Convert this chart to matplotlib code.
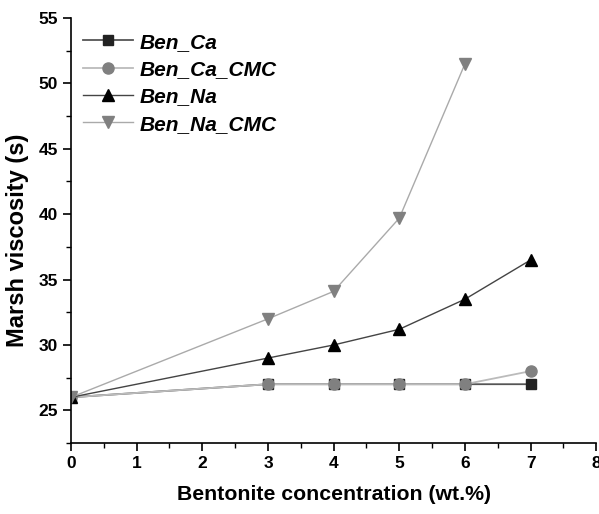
import matplotlib
matplotlib.use("Agg")
import matplotlib.pyplot as plt
from matplotlib.ticker import MultipleLocator

plt.rcParams["font.family"] = ["Liberation Sans", "DejaVu Sans"]
plt.rcParams["font.weight"] = "bold"

# data
conc = [0, 3, 4, 5, 6, 7]
ben_ca = [26, 27, 27, 27, 27, 27]
ben_ca_cmc = [26, 27, 27, 27, 27, 28]
ben_na = [26, 29, 30, 31.2, 33.5, 36.5]
conc_na_cmc = [0, 3, 4, 5, 6]
ben_na_cmc = [26, 32, 34.1, 39.7, 51.5]

fig = plt.figure(figsize=(5.99, 5.14), dpi=100)
ax = fig.add_axes([0.1185, 0.138, 0.877, 0.827])

ax.plot(conc, ben_ca, color="#555555", lw=1.3, marker="s", ms=7,
        mfc="#222222", mec="#222222", label="Ben_Ca")
ax.plot(conc, ben_ca_cmc, color="#bbbbbb", lw=1.3, marker="o", ms=8,
        mfc="#808080", mec="#808080", label="Ben_Ca_CMC")
ax.plot(conc, ben_na, color="#444444", lw=1.0, marker="^", ms=8,
        mfc="black", mec="black", label="Ben_Na")
ax.plot(conc_na_cmc, ben_na_cmc, color="#aaaaaa", lw=1.0, marker="v", ms=8,
        mfc="#808080", mec="#808080", label="Ben_Na_CMC")

ax.set_xlim(0, 8)
ax.set_ylim(22.5, 55)
ax.xaxis.set_major_locator(MultipleLocator(1))
ax.xaxis.set_minor_locator(MultipleLocator(0.5))
ax.yaxis.set_major_locator(MultipleLocator(5))
ax.yaxis.set_minor_locator(MultipleLocator(2.5))
ax.spines[["top", "right"]].set_visible(False)
ax.spines[["left", "bottom"]].set_linewidth(1.2)
ax.tick_params(which="major", direction="out", length=6, width=1.2, labelsize=12.5)
ax.tick_params(which="minor", direction="out", length=3.5, width=1.0)

ax.set_xlabel("Bentonite concentration (wt.%)", fontsize=15.3, fontweight="bold", labelpad=10)
ax.set_ylabel("Marsh viscosity (s)", fontsize=17, fontweight="bold")
ax.yaxis.set_label_coords(-0.08, 0.478)

leg = ax.legend(loc="upper left", frameon=False, handlelength=2.4, handletextpad=0.3,
                prop={"size": 15, "weight": "bold", "style": "italic"},
                borderaxespad=0.2, labelspacing=0.4, bbox_to_anchor=(0.0, 0.995))

fig.savefig("out.png", dpi=100)
